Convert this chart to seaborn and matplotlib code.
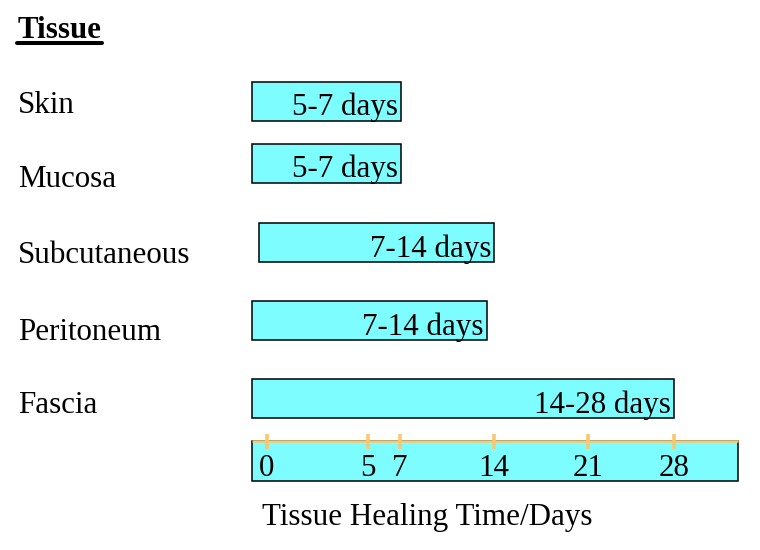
import numpy as np
import pandas as pd
import matplotlib
matplotlib.use("Agg")
import matplotlib.pyplot as plt
from matplotlib.lines import Line2D
from matplotlib.patches import Rectangle
import seaborn as sns

# ---- data ----
tissues = ["Skin", "Mucosa", "Subcutaneous", "Peritoneum", "Fascia"]
bar_start = [-0.75, -0.75, -0.4, -0.75, -0.75]   # days (bars begin slightly before 0)
bar_end = [7.05, 7.05, 14.0, 13.45, 28.0]        # days
bar_labels = ["5-7 days", "5-7 days", "7-14 days", "7-14 days", "14-28 days"]
tick_days = [0, 5, 7, 14, 21, 28]
tick_labels = ["0", "5", "7", "14", "21", "28"]
axis_end_day = 33.2

# ---- layout (pixel positions in a 760x550 canvas) ----
row_center = [101.5, 163.5, 242.5, 320.5, 398.5]
name_baseline = [113, 187.3, 263.3, 340, 412.7]
bar_height = 39
# non-linear day -> horizontal position mapping used in the original drawing
knot_days = [-13.2, 0, 5, 7, 14, 21, 28, 35]
knot_pos = [0, 266.7, 367.7, 400, 494, 587.7, 673.7, 760]

CYAN = "#7DFDFF"
ORANGE = "#F7C873"
FONT = "Liberation Serif"
FS = 22.3

sns.set_theme(style="white")
plt.rcParams["font.family"] = [FONT, "DejaVu Serif"]
plt.rcParams["text.color"] = "black"

W, H = 760, 550
fig = plt.figure(figsize=(W / 100, H / 100), dpi=100)
ax = fig.add_axes([0, 0, 1, 1])

df = pd.DataFrame({"tissue": tissues, "start": bar_start, "end": bar_end,
                   "pos": row_center, "label": bar_labels})

sns.barplot(data=df, x="end", y="pos", orient="y", native_scale=True,
            width=bar_height / (row_center[1] - row_center[0]),
            color=CYAN, saturation=1, edgecolor="black", linewidth=1.1,
            errorbar=None, ax=ax)

fwd = lambda d: np.interp(d, knot_days, knot_pos)
inv = lambda p: np.interp(p, knot_pos, knot_days)
ax.set_xscale("function", functions=(fwd, inv))
ax.set_xlim(knot_days[0], knot_days[-1])
ax.set_ylim(H, 0)
ax.axis("off")

# move each bar so it spans start -> end
for patch in ax.patches:
    cy = patch.get_y() + patch.get_height() / 2
    i = int(np.argmin([abs(cy - c) for c in row_center]))
    patch.set_x(df.start[i])
    patch.set_width(df.end[i] - df.start[i])

# bar labels, right-aligned inside bar end
for i, row in df.iterrows():
    ax.annotate(row.label, xy=(row.end, row.pos), xytext=(-3, -14),
                textcoords="offset pixels", ha="right", va="baseline",
                fontsize=FS, color="black", family=FONT)

# tissue names
for name, bl in zip(tissues, name_baseline):
    fig.text(18 / W, 1 - bl / H, name, fontsize=FS, family=FONT,
             color="black", ha="left", va="baseline")

# heading with underline
fig.text(18 / W, 1 - 37.7 / H, "Tissue", fontsize=FS, family=FONT,
         fontweight="bold", color="black", ha="left", va="baseline")
fig.add_artist(Line2D([17 / W, 102 / W], [1 - 43 / H, 1 - 43 / H],
                      transform=fig.transFigure, color="black", linewidth=2.9))

# axis strip
ax_top, ax_bot = 441, 481
ax.add_patch(Rectangle((bar_start[0], ax_top), axis_end_day - bar_start[0],
                       ax_bot - ax_top, facecolor=CYAN, edgecolor="black",
                       linewidth=1.1, zorder=2))
ax.plot([bar_start[0], axis_end_day], [ax_top, ax_top], color=ORANGE,
        linewidth=1.8, zorder=3, solid_capstyle="butt")
for d, lab in zip(tick_days, tick_labels):
    ax.plot([d, d], [434, 449], color=ORANGE, linewidth=2.6, zorder=3,
            solid_capstyle="butt")
    ax.text(d, 476, lab, ha="center", va="baseline", fontsize=FS,
            family=FONT, color="black", zorder=4)

fig.text(262 / W, 1 - 525 / H, "Tissue Healing Time/Days", fontsize=FS,
         family=FONT, color="black", ha="left", va="baseline")

fig.savefig("out.png", dpi=100)
